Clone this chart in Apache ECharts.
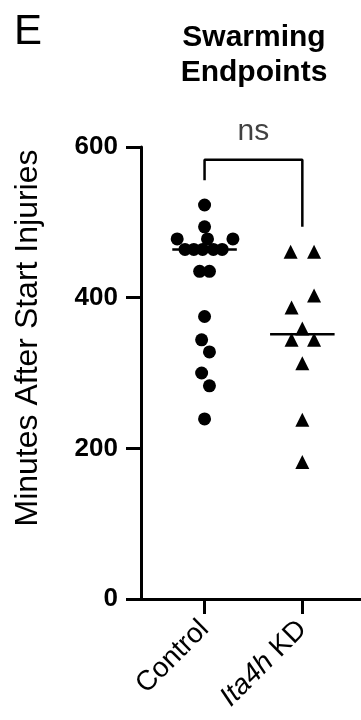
<!DOCTYPE html>
<html>
<head>
<meta charset="utf-8">
<script src="https://cdn.jsdelivr.net/npm/echarts@6/dist/echarts.min.js"></script>
<style>html,body{margin:0;padding:0;background:#fff;}#c{width:361px;height:720px;}</style>
</head>
<body>
<div id="c"></div>
<script>
const categories = ['Control', 'Ita4h KD'];
const yTicks = [0, 200, 400, 600];
const controlValues = [523, 494, 478, 478, 478, 464, 464, 464, 464, 464, 435, 435, 375, 344, 328, 300, 283, 239];
const controlOffsets = [0, 0, -0.28, 0.03, 0.29, -0.2, -0.11, -0.02, 0.09, 0.18, -0.05, 0.05, 0, -0.03, 0.05, -0.03, 0.05, 0];
const kdValues = [461, 461, 403, 387, 359, 344, 344, 313, 238, 182];
const kdOffsets = [-0.12, 0.12, 0.12, -0.11, 0, -0.11, 0.12, 0, 0, 0];
const bracketLevels = [556, 583, 583, 494];
const sigLabel = 'ns';
const sigLevel = 620;

function median(a) {
  const s = a.slice().sort((x, y) => x - y);
  const n = s.length;
  return n % 2 ? s[(n - 1) / 2] : (s[n / 2 - 1] + s[n / 2]) / 2;
}
const FONT = '"Liberation Sans", Arial, sans-serif';
const chart = echarts.init(document.getElementById('c'));
const half = 0.33;
const mC = median(controlValues), mK = median(kdValues);

chart.setOption({
  animation: false,
  backgroundColor: '#fff',
  grid: { left: 141, right: 0, top: 147, bottom: 121, containLabel: false },
  xAxis: {
    type: 'value', min: -0.65, max: 1.6,
    splitLine: { show: false },
    axisLine: { show: true, onZero: false, lineStyle: { color: '#000', width: 3 } },
    axisTick: { show: true, customValues: [0, 1], length: 15, lineStyle: { color: '#000', width: 3 } },
    axisLabel: {
      customValues: [0, 1], rotate: 45, margin: 26,
      fontSize: 28, color: '#000', fontFamily: FONT,
      formatter: v => v === 0 ? categories[0] : '{i|' + categories[1].split(' ')[0] + '} ' + categories[1].split(' ')[1],
      rich: { i: { fontStyle: 'italic', fontSize: 28, color: '#000', fontFamily: FONT } }
    }
  },
  yAxis: {
    type: 'value', min: 0, max: 600, interval: 200,
    splitLine: { show: false },
    axisLine: { show: true, onZero: false, lineStyle: { color: '#000', width: 3 } },
    axisTick: { show: true, length: 15, lineStyle: { color: '#000', width: 3 } },
    axisLabel: { margin: 23, fontSize: 26, fontWeight: 'bold', color: '#000', fontFamily: FONT,
      formatter: v => yTicks.includes(v) ? String(v) : '' }
  },
  graphic: [
    { type: 'text', left: 14, top: 11, style: { text: 'E', fontSize: 42, fill: '#000', fontFamily: FONT } },
    { type: 'text', x: 254, y: 20, style: { text: 'Swarming\nEndpoints', fontSize: 30, fontWeight: 'bold', lineHeight: 35, align: 'center', verticalAlign: 'top', fill: '#000', fontFamily: FONT } },
    { type: 'text', x: 28, y: 338, rotation: Math.PI / 2, style: { text: 'Minutes After Start Injuries', fontSize: 32, align: 'center', verticalAlign: 'middle', fill: '#000', fontFamily: FONT } }
  ],
  series: [
    { type: 'scatter', symbol: 'circle', symbolSize: 13, itemStyle: { color: '#000', opacity: 1 },
      data: controlValues.map((v, i) => [0 + controlOffsets[i], v]) },
    { type: 'scatter', symbol: 'triangle', symbolSize: 14, itemStyle: { color: '#000', opacity: 1 },
      data: kdValues.map((v, i) => [1 + kdOffsets[i], v]) },
    { type: 'line', symbol: 'none', lineStyle: { color: '#000', width: 2.5 },
      data: [[-half, mC], [half, mC], null, [1 - half, mK], [1 + half, mK]], connectNulls: false },
    { type: 'line', symbol: 'none', clip: false, lineStyle: { color: '#000', width: 2.5 },
      data: [[0, bracketLevels[0]], [0, bracketLevels[1]], [1, bracketLevels[2]], [1, bracketLevels[3]]] },
    { type: 'scatter', symbolSize: 0, clip: false, silent: true,
      label: { show: true, position: 'inside', formatter: sigLabel, fontSize: 30, color: '#111', fontFamily: FONT },
      data: [[0.5, sigLevel]] }
  ]
});
</script>
</body>
</html>
